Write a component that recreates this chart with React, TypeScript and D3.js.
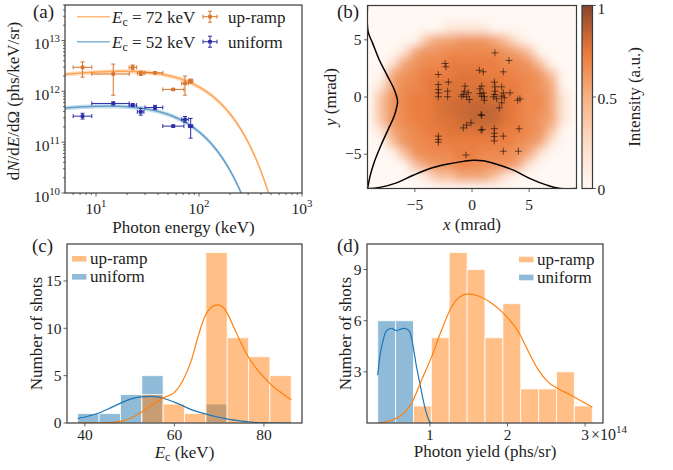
import React from "react";
import * as d3 from "d3";

const FONT = "'Liberation Serif', 'Times New Roman', Times, serif";
const INK = "#1e1e1e";
const SPINE = "#3a3a3a";
const ORANGE = "#ff7f0e";
const BLUE = "#1f77b4";
const UP_MARK = "#d8742c";
const UNI_MARK = "#2b2ba8";

// ---------- (a) spectra ----------
const binEnergy = [7.4, 14.7, 22.7, 27.2, 37.4, 56.2, 73.1, 83.0];
const binEnergyLo = [6.0, 9.1, 21.0, 25.2, 29.9, 44.5, 67.9, 79.0];
const binEnergyHi = [9.1, 21.0, 24.8, 29.2, 44.5, 71.4, 78.7, 87.0];
const upRampYield = [2.97e12, 2.19e12, 2.97e12, 2.26e12, 2.32e12, 1.09e12, 1.43e12, 1.59e12];
const upRampYieldLo = [1.9e12, 8.4e11, 2.65e12, 2.05e12, 2.2e12, 1.04e12, 8.4e11, 1.45e12];
const upRampYieldHi = [3.8e12, 3.44e12, 3.3e12, 2.5e12, 2.45e12, 1.14e12, 2.0e12, 1.75e12];
const uniformYield = [3.25e11, 5.78e11, 5.36e11, 3.95e11, 4.82e11, 2.07e11, 2.8e11, 2.07e11];
const uniformYieldLo = [2.85e11, 5.4e11, 5.0e11, 3.4e11, 4.4e11, 1.98e11, 2.45e11, 1.2e11];
const uniformYieldHi = [3.7e11, 6.2e11, 5.75e11, 4.6e11, 5.3e11, 2.17e11, 3.2e11, 2.93e11];

// synchrotron-like fit parameters
const upRampEc = 72;
const uniformEc = 52;
const upRampAmp = 4.5e12;
const uniformAmp = 9.3e11;
const fitIndex = 0.25;
const fitSpread = 0.1;

const specXTicks = [1, 2, 3];
const specYTicks = [10, 11, 12, 13];

// ---------- (b) beam profile and pointing ----------
const beamGridX = [-9, -8, -7, -6, -5, -4, -3, -2, -1, 0, 1, 2, 3, 4, 5, 6, 7, 8, 9];
const beamGridY = [8, 7, 6, 5, 4, 3, 2, 1, 0, -1, -2, -3, -4, -5, -6, -7, -8];
// intensity in percent, one row per y value, one entry per x value
const beamRows = [
  [0, 0, 0, 0, 0, 0, 0, 0, 0, 0, 0, 0, 0, 0, 0, 0, 0, 0, 0],
  [0, 0, 0, 0, 0, 0, 0, 0, 0, 0, 0, 0, 0, 0, 0, 0, 0, 0, 0],
  [0, 0, 0, 0, 0, 0, 0, 15, 15, 15, 15, 0, 0, 0, 0, 0, 0, 0, 0],
  [0, 0, 0, 0, 0, 40, 55, 55, 63, 63, 63, 55, 40, 15, 0, 0, 0, 0, 0],
  [0, 0, 0, 15, 55, 63, 63, 68, 68, 68, 68, 68, 63, 55, 40, 0, 0, 0, 0],
  [0, 0, 15, 55, 63, 68, 68, 73, 73, 73, 73, 73, 68, 68, 63, 40, 0, 0, 0],
  [0, 0, 55, 63, 68, 73, 73, 73, 78, 78, 73, 73, 73, 68, 68, 63, 40, 0, 0],
  [0, 15, 55, 68, 68, 73, 78, 78, 78, 78, 78, 78, 73, 73, 68, 63, 55, 0, 0],
  [0, 40, 63, 68, 73, 73, 78, 78, 82, 82, 82, 78, 78, 73, 68, 68, 55, 15, 0],
  [0, 40, 63, 68, 73, 73, 78, 82, 82, 85, 85, 85, 78, 73, 68, 68, 55, 15, 0],
  [0, 40, 63, 68, 73, 73, 78, 78, 82, 85, 85, 85, 78, 73, 68, 63, 55, 15, 0],
  [0, 15, 55, 63, 68, 73, 73, 78, 78, 78, 78, 78, 73, 73, 68, 63, 40, 0, 0],
  [0, 0, 40, 63, 68, 68, 73, 73, 73, 73, 73, 73, 73, 68, 63, 55, 15, 0, 0],
  [0, 0, 0, 40, 63, 68, 68, 68, 73, 73, 68, 68, 68, 63, 55, 15, 0, 0, 0],
  [0, 0, 0, 0, 40, 55, 63, 63, 68, 68, 63, 63, 63, 55, 15, 0, 0, 0, 0],
  [0, 0, 0, 0, 0, 15, 40, 40, 55, 55, 55, 40, 15, 0, 0, 0, 0, 0, 0],
  [0, 0, 0, 0, 0, 0, 0, 0, 0, 0, 0, 0, 0, 0, 0, 0, 0, 0, 0],
];
const pointingX = [
  2.01, 3.24, -2.36, -2.28, 0.64, 0.99, 2.74, -2.95, -2.07,
  -2.95, -2.95, -2.95, -2.95, -2.13, -2.13,
  -0.61, -0.67, -0.76, -0.9, -0.47, -0.32, -0.23,
  0.7, 0.85, 0.99, 0.85, 1.08, 0.7, 1.08,
  1.96, 2.01, 2.01, 2.01, 1.87, 2.16,
  2.6, 2.74, 2.6, 2.83, 3.33, 2.39, 2.6, 4.0, 4.2,
  0.79, 0.85, -0.09, -0.47, -0.76, 0.79, 0.9,
  1.95, 1.95, 1.95, 1.95, 2.74, 4.12,
  -2.95, -2.95, -2.95, 2.74, 4.06, -0.53,
];
const pointingY = [
  3.86, 3.19, 2.93, 2.64, 2.34, 2.2, 2.2, 1.97, 1.3,
  1.09, 0.66, 0.36, 0.02, 0.51, 0.02,
  0.95, 0.51, 0.22, 0.07, 0.02, 0.37, -0.22,
  0.71, 0.95, 0.36, 0.07, 0.02, 0.3, -0.28,
  1.3, 0.89, 0.51, 0.22, 0.02, -0.16,
  0.89, 0.36, 0.07, -0.07, 0.36, -0.95, -0.51, -0.28, -0.16,
  -1.53, -1.62, -2.26, -2.46, -2.7, -2.9, -2.84,
  -2.77, -3.17, -3.46, -3.84, -3.42, -2.78,
  -3.42, -3.72, -3.95, -4.74, -4.74, -5.08,
];
// marginal profiles (normalised)
const profileYPos = [8, 5.72, 4.71, 3.26, 1.81, 0.65, -0.36, -0.8, -1.67, -2.83, -4.28, -5.72, -6.88, -7.75, -8];
const profileYVal = [0, 0.02, 0.17, 0.39, 0.67, 0.89, 1.0, 0.98, 0.89, 0.69, 0.44, 0.22, 0.09, 0.02, 0];
const profileXPos = [-9.15, -8.07, -6.61, -5.15, -3.68, -2.22, -0.76, 0.12, 0.99, 2.16, 3.63, 5.09, 6.55, 7.72, 9.15];
const profileXVal = [0, 0.04, 0.2, 0.47, 0.71, 0.86, 0.96, 1.0, 0.98, 0.86, 0.65, 0.35, 0.12, 0.0, 0];
const profileYAmp = 2.63;
const profileXAmp = 2.47;
const beamXTicks = [-5, 0, 5];
const beamYTicks = [-5, 0, 5];
const colorbarTicks = [0, 0.5, 1];
const cmapStops = [0, 0.25, 0.5, 0.75, 1];
const cmapColors = ["#fff8f3", "#fcdcc7", "#f6b184", "#e9793a", "#86462b"];

// ---------- (c) critical energy histogram ----------
const ecEdges = [38.4, 43.17, 47.94, 52.71, 57.48, 62.25, 67.02, 71.79, 76.56, 81.33, 86.1];
const ecUpRamp = [0, 0, 0, 3, 2, 1, 18, 9, 7, 5];
const ecUniform = [1, 1, 3, 5, 0, 0, 2, 0, 0, 0];
const ecKdeUpX = [38.4, 42, 45.3, 49.0, 52.7, 55.3, 57.85, 60.07, 61.9, 63.76, 65.23, 66.7, 68.18, 69.65, 70.76, 71.9, 73.34, 74.8, 76.3, 77.8, 80.0, 82.2, 84.4, 86.1];
const ecKdeUpY = [0.0, 0.01, 0.04, 0.28, 1.16, 2.04, 2.73, 3.26, 4.49, 6.59, 9.04, 11.15, 12.2, 12.48, 12.27, 11.5, 10.03, 8.52, 7.12, 6.07, 4.84, 3.79, 3.02, 2.46];
const ecKdeUniX = [38.4, 40.9, 43.1, 46.1, 49.0, 52.0, 54.9, 57.85, 60.8, 63.8, 66.7, 69.65, 72.6, 75.5, 78.5, 80.0, 83, 86.1];
const ecKdeUniY = [0.46, 0.74, 1.05, 1.68, 2.31, 2.73, 2.81, 2.56, 2.04, 1.41, 0.99, 0.63, 0.36, 0.18, 0.04, 0.01, 0, 0];
const ecXTicks = [40, 60, 80];
const ecYTicks = [0, 5, 10, 15];

// ---------- (d) photon yield histogram (units of 1e14 phs/sr) ----------
const yieldEdges = [0.328, 0.558, 0.789, 1.019, 1.249, 1.48, 1.71, 1.94, 2.17, 2.401, 2.631, 2.861, 3.092];
const yieldUpRamp = [0, 0, 1, 5, 10, 9, 5, 7, 2, 2, 3, 1];
const yieldUniform = [6, 6, 0, 0, 0, 0, 0, 0, 0, 0, 0, 0];
const yieldKdeUniX = [0.328, 0.355, 0.398, 0.441, 0.505, 0.57, 0.613, 0.677, 0.742, 0.785, 0.828, 0.871, 0.914, 0.957, 1.0, 1.02];
const yieldKdeUniY = [2.81, 3.88, 4.86, 5.41, 5.55, 5.41, 5.49, 5.55, 5.35, 4.47, 3.29, 2.32, 1.34, 0.55, 0.06, 0];
const yieldKdeUpX = [0.328, 0.505, 0.634, 0.763, 0.892, 1.022, 1.151, 1.28, 1.387, 1.495, 1.624, 1.796, 1.968, 2.14, 2.27, 2.4, 2.52, 2.65, 2.82, 2.95, 3.092];
const yieldKdeUpY = [0.0, 0.16, 0.45, 1.14, 2.51, 3.88, 5.45, 6.82, 7.41, 7.57, 7.45, 7.02, 6.34, 5.35, 4.18, 3.1, 2.41, 2.02, 1.63, 1.29, 0.94];
const yieldXTicks = [1, 2, 3];
const yieldYTicks = [3, 6, 9];

const TICK = 15.5;
const LABEL = 17;

type Box = { l: number; r: number; t: number; b: number };

function Frame({ P }: { P: Box }) {
  return <rect x={P.l} y={P.t} width={P.r - P.l} height={P.b - P.t} fill="none" stroke={SPINE} strokeWidth={1.2} />;
}

function Pow({ x, y, exp, anchor = "middle" }: { x: number; y: number; exp: number; anchor?: string }) {
  return (
    <text x={x} y={y} textAnchor={anchor as any} fontSize={TICK} fill={INK}>
      10<tspan dy={-TICK * 0.45} fontSize={TICK * 0.7}>{exp}</tspan>
    </text>
  );
}

function ErrPoints(props: any) {
  const { x, y, E, Elo, Ehi, N, Nlo, Nhi, color } = props;
  return (
    <g stroke={color} strokeWidth={1} fill={color}>
      {E.map((e: number, i: number) => {
        const cx = x(e), cy = y(N[i]);
        const x0 = x(Elo[i]), x1 = x(Ehi[i]), y0 = y(Nlo[i]), y1 = y(Nhi[i]);
        return (
          <g key={i}>
            <line x1={x0} x2={x1} y1={cy} y2={cy} />
            <line x1={x0} x2={x0} y1={cy - 2} y2={cy + 2} />
            <line x1={x1} x2={x1} y1={cy - 2} y2={cy + 2} />
            <line x1={cx} x2={cx} y1={y0} y2={y1} />
            <line x1={cx - 2} x2={cx + 2} y1={y0} y2={y0} />
            <line x1={cx - 2} x2={cx + 2} y1={y1} y2={y1} />
            <rect x={cx - 1.8} y={cy - 1.8} width={3.6} height={3.6} stroke="none" />
          </g>
        );
      })}
    </g>
  );
}

function PanelA() {
  const P: Box = { l: 65, r: 302, t: 5, b: 193 };
  const x = d3.scaleLog().domain([5, 1000]).range([P.l, P.r]);
  const y = d3.scaleLog().domain([1e10, 5e13]).range([P.b, P.t]);
  const fitE = d3.range(0, 401).map((i) => 5 * Math.pow(200, i / 400));
  const model = (amp: number, ec: number) => (e: number) => amp * Math.pow(e / ec, fitIndex) * Math.exp(-e / ec);
  const fits = [
    { f: model(upRampAmp, upRampEc), color: ORANGE },
    { f: model(uniformAmp, uniformEc), color: BLUE },
  ];
  const safe = (v: number) => y(Math.max(v, 1e6));
  const xMinor: number[] = [];
  [1, 10, 100].forEach((d) => [2, 3, 4, 5, 6, 7, 8, 9].forEach((k) => { const v = k * d; if (v > 5 && v < 1000 && v !== 10 && v !== 100) xMinor.push(v); }));
  const yMinor: number[] = [];
  [1e10, 1e11, 1e12, 1e13].forEach((d) => [2, 3, 4, 5, 6, 7, 8, 9].forEach((k) => { const v = k * d; if (v <= 5e13) yMinor.push(v); }));
  return (
    <g>
      <defs>
        <clipPath id="clipA"><rect x={P.l} y={P.t} width={P.r - P.l} height={P.b - P.t} /></clipPath>
      </defs>
      <g clipPath="url(#clipA)">
        {fits.map((ft, i) => (
          <g key={i}>
            <path d={d3.area<number>().x((e) => x(e)).y0((e) => safe(ft.f(e) * (1 - fitSpread))).y1((e) => safe(ft.f(e) * (1 + fitSpread)))(fitE) || ""} fill={ft.color} fillOpacity={0.25} />
            <path d={d3.line<number>().x((e) => x(e)).y((e) => safe(ft.f(e)))(fitE) || ""} fill="none" stroke={ft.color} strokeOpacity={0.6} strokeWidth={1.5} />
          </g>
        ))}
        <ErrPoints x={x} y={y} E={binEnergy} Elo={binEnergyLo} Ehi={binEnergyHi} N={upRampYield} Nlo={upRampYieldLo} Nhi={upRampYieldHi} color={UP_MARK} />
        <ErrPoints x={x} y={y} E={binEnergy} Elo={binEnergyLo} Ehi={binEnergyHi} N={uniformYield} Nlo={uniformYieldLo} Nhi={uniformYieldHi} color={UNI_MARK} />
      </g>
      <g stroke={SPINE} strokeWidth={0.8}>
        {xMinor.map((v) => <line key={"xm" + v} x1={x(v)} x2={x(v)} y1={P.b} y2={P.b + 2} />)}
        {specXTicks.map((p) => <line key={"xM" + p} x1={x(Math.pow(10, p))} x2={x(Math.pow(10, p))} y1={P.b} y2={P.b + 3.5} />)}
        {yMinor.map((v) => <line key={"ym" + v} x1={P.l - 2} x2={P.l} y1={y(v)} y2={y(v)} />)}
        {specYTicks.map((p) => <line key={"yM" + p} x1={P.l - 3.5} x2={P.l} y1={y(Math.pow(10, p))} y2={y(Math.pow(10, p))} />)}
      </g>
      {specXTicks.map((p) => <Pow key={"xl" + p} x={x(Math.pow(10, p))} y={P.b + 21} exp={p} />)}
      {specYTicks.map((p) => <Pow key={"yl" + p} x={P.l - 5} y={y(Math.pow(10, p)) + 8.5} exp={p} anchor="end" />)}
      <Frame P={P} />
      <text x={(P.l + P.r) / 2} y={232.5} textAnchor="middle" fontSize={LABEL} fill={INK}>Photon energy (keV)</text>
      <text transform={`translate(19,101) rotate(-90)`} textAnchor="middle" fontSize={LABEL} fill={INK}>
        d<tspan fontStyle="italic">N</tspan>/d<tspan fontStyle="italic">E</tspan>/dΩ (phs/keV/sr)
      </text>
      {/* legend */}
      <g fontSize={LABEL} fill={INK}>
        <line x1={77} x2={110} y1={16.7} y2={16.7} stroke={ORANGE} strokeOpacity={0.55} strokeWidth={1.5} />
        <text x={112} y={22.5}><tspan fontStyle="italic">E</tspan><tspan fontSize={12} dy={3}>c</tspan><tspan dy={-3}>{` = ${upRampEc} keV`}</tspan></text>
        <line x1={77} x2={110} y1={41.7} y2={41.7} stroke={BLUE} strokeOpacity={0.55} strokeWidth={1.5} />
        <text x={112} y={47.5}><tspan fontStyle="italic">E</tspan><tspan fontSize={12} dy={3}>c</tspan><tspan dy={-3}>{` = ${uniformEc} keV`}</tspan></text>
        {[{ c: UP_MARK, yy: 16.7, t: "up-ramp" }, { c: UNI_MARK, yy: 41.7, t: "uniform" }].map((h) => (
          <g key={h.t}>
            <g stroke={h.c} strokeWidth={1}>
              <line x1={203} x2={217} y1={h.yy} y2={h.yy} />
              <line x1={203} x2={203} y1={h.yy - 2} y2={h.yy + 2} />
              <line x1={217} x2={217} y1={h.yy - 2} y2={h.yy + 2} />
              <line x1={210} x2={210} y1={h.yy - 5.5} y2={h.yy + 5.5} />
              <line x1={208} x2={212} y1={h.yy - 5.5} y2={h.yy - 5.5} />
              <line x1={208} x2={212} y1={h.yy + 5.5} y2={h.yy + 5.5} />
            </g>
            <rect x={208.2} y={h.yy - 1.8} width={3.6} height={3.6} fill={h.c} />
            <text x={228} y={h.yy + 5.8}>{h.t}</text>
          </g>
        ))}
      </g>
      <text x={33} y={17.5} fontSize={19} fill={INK}>(a)</text>
    </g>
  );
}

function PanelB() {
  const P: Box = { l: 367.5, r: 576.5, t: 5.5, b: 188.5 };
  const x = d3.scaleLinear().domain([-9.15, 9.15]).range([P.l, P.r]);
  const y = d3.scaleLinear().domain([-8, 8]).range([P.b, P.t]);
  const cmap = d3.scaleLinear<string>().domain(cmapStops).range(cmapColors).interpolate(d3.interpolateRgb).clamp(true);
  const cw = x(1) - x(0);
  const ch = y(0) - y(1);
  const leftProfile = d3.line<number>()
    .x((_, i) => x(-9.15 + profileYVal[i] * profileYAmp))
    .y((v) => y(v))
    .curve(d3.curveCatmullRom.alpha(0.5))(profileYPos) || "";
  const bottomProfile = d3.line<number>()
    .x((v) => x(v))
    .y((_, i) => y(-8 + profileXVal[i] * profileXAmp))
    .curve(d3.curveCatmullRom.alpha(0.5))(profileXPos) || "";
  const CB: Box = { l: 582, r: 592.5, t: 5.5, b: 188.5 };
  const cy = d3.scaleLinear().domain([0, 1]).range([CB.b, CB.t]);
  const gradStops = d3.range(0, 21).map((i) => i / 20);
  return (
    <g>
      <defs>
        <clipPath id="clipB"><rect x={P.l} y={P.t} width={P.r - P.l} height={P.b - P.t} /></clipPath>
        <filter id="softB" x="-10%" y="-10%" width="120%" height="120%">
          <feGaussianBlur stdDeviation={5} />
        </filter>
        <linearGradient id="cbar" x1="0" y1="1" x2="0" y2="0">
          {gradStops.map((s) => <stop key={s} offset={s} stopColor={cmap(s)} />)}
        </linearGradient>
      </defs>
      <g clipPath="url(#clipB)">
        <rect x={P.l} y={P.t} width={P.r - P.l} height={P.b - P.t} fill={cmap(0)} />
        <g filter="url(#softB)">
          {beamRows.map((row, i) =>
            row.map((v, j) => (
              <rect key={i + "-" + j} x={x(beamGridX[j] - 0.5)} y={y(beamGridY[i] + 0.5)} width={cw + 0.3} height={ch + 0.3} fill={cmap(v / 100)} />
            ))
          )}
        </g>
        <g stroke="#000" strokeOpacity={0.55} strokeWidth={1}>
          {pointingX.map((px, i) => {
            const X = x(px), Y = y(pointingY[i]);
            return <path key={i} d={`M${X - 3.5},${Y}h7M${X},${Y - 3.5}v7`} />;
          })}
        </g>
        <path d={leftProfile} fill="none" stroke="#000" strokeWidth={1.5} />
        <path d={bottomProfile} fill="none" stroke="#000" strokeWidth={1.5} />
      </g>
      <g stroke={SPINE} strokeWidth={0.8}>
        {beamXTicks.map((t) => <line key={"x" + t} x1={x(t)} x2={x(t)} y1={P.b} y2={P.b + 3.5} />)}
        {beamYTicks.map((t) => <line key={"y" + t} x1={P.l - 3.5} x2={P.l} y1={y(t)} y2={y(t)} />)}
      </g>
      {beamXTicks.map((t) => <text key={"xl" + t} x={x(t)} y={210} textAnchor="middle" fontSize={TICK} fill={INK}>{t < 0 ? "\u2212" + Math.abs(t) : t}</text>)}
      {beamYTicks.map((t) => <text key={"yl" + t} x={P.l - 6} y={y(t) + 5.3} textAnchor="end" fontSize={TICK} fill={INK}>{t < 0 ? "\u2212" + Math.abs(t) : t}</text>)}
      <Frame P={P} />
      <text x={(P.l + P.r) / 2} y={230} textAnchor="middle" fontSize={LABEL} fill={INK}><tspan fontStyle="italic">x</tspan> (mrad)</text>
      <text transform={`translate(336,${(P.t + P.b) / 2}) rotate(-90)`} textAnchor="middle" fontSize={LABEL} fill={INK}><tspan fontStyle="italic">y</tspan> (mrad)</text>
      {/* colorbar */}
      <rect x={CB.l} y={CB.t} width={CB.r - CB.l} height={CB.b - CB.t} fill="url(#cbar)" stroke={SPINE} strokeWidth={1.2} />
      <g stroke={SPINE} strokeWidth={0.8}>
        {colorbarTicks.map((t) => <line key={t} x1={CB.r} x2={CB.r + 3.5} y1={cy(t)} y2={cy(t)} />)}
      </g>
      {colorbarTicks.map((t) => <text key={"c" + t} x={CB.r + 5} y={Math.max(cy(t) + 6.5, 14)} fontSize={TICK} fill={INK}>{t}</text>)}
      <text transform={`translate(640,${(CB.t + CB.b) / 2}) rotate(-90)`} textAnchor="middle" fontSize={LABEL} fill={INK}>Intensity (a.u.)</text>
      <text x={337} y={17.5} fontSize={19} fill={INK}>(b)</text>
    </g>
  );
}

function Hist(props: any) {
  const { P, xDom, yMax, edges, up, uni, kUpX, kUpY, kUniX, kUniY, xTicks, yTicks, id } = props;
  const x = d3.scaleLinear().domain(xDom).range([P.l, P.r]);
  const y = d3.scaleLinear().domain([0, yMax]).range([P.b, P.t]);
  const bars = (counts: number[], color: string) =>
    counts.map((c, i) =>
      c > 0 ? (
        <rect key={i} x={x(edges[i])} y={y(c)} width={x(edges[i + 1]) - x(edges[i])} height={y(0) - y(c)} fill={color} fillOpacity={0.5} stroke="#fff" strokeOpacity={0.8} strokeWidth={1} />
      ) : null
    );
  const kde = (xs: number[], ys: number[]) =>
    d3.line<number>().x((v) => x(v)).y((_, i) => y(ys[i])).curve(d3.curveMonotoneX)(xs) || "";
  return (
    <g>
      <defs>
        <clipPath id={id}><rect x={P.l} y={P.t} width={P.r - P.l} height={P.b - P.t} /></clipPath>
      </defs>
      <g clipPath={`url(#${id})`}>
        {bars(uni, BLUE)}
        {bars(up, ORANGE)}
        <path d={kde(kUniX, kUniY)} fill="none" stroke={BLUE} strokeWidth={1.2} />
        <path d={kde(kUpX, kUpY)} fill="none" stroke={ORANGE} strokeWidth={1.2} />
      </g>
      <g stroke={SPINE} strokeWidth={0.8}>
        {xTicks.map((t: number) => <line key={"x" + t} x1={x(t)} x2={x(t)} y1={P.b} y2={P.b + 3.5} />)}
        {yTicks.map((t: number) => <line key={"y" + t} x1={P.l - 3.5} x2={P.l} y1={y(t)} y2={y(t)} />)}
      </g>
      {xTicks.map((t: number) => <text key={"xl" + t} x={x(t)} y={P.b + 17} textAnchor="middle" fontSize={TICK} fill={INK}>{t}</text>)}
      {yTicks.map((t: number) => <text key={"yl" + t} x={P.l - 5.5} y={y(t) + 5.3} textAnchor="end" fontSize={TICK} fill={INK}>{t}</text>)}
      <Frame P={P} />
    </g>
  );
}

function LegendPatches({ x, y0 }: { x: number; y0: number }) {
  return (
    <g fontSize={LABEL} fill={INK}>
      <rect x={x} y={y0 - 2.8} width={14.5} height={5.6} fill={ORANGE} fillOpacity={0.5} />
      <text x={x + 18} y={y0 + 5.5}>up-ramp</text>
      <rect x={x} y={y0 + 18 - 2.8} width={14.5} height={5.6} fill={BLUE} fillOpacity={0.5} />
      <text x={x + 18} y={y0 + 23.5}>uniform</text>
    </g>
  );
}

function PanelC() {
  const P: Box = { l: 67, r: 302, t: 244, b: 423 };
  return (
    <g>
      <Hist id="clipC" P={P} xDom={[36.0, 88.5]} yMax={18.9} edges={ecEdges} up={ecUpRamp} uni={ecUniform}
        kUpX={ecKdeUpX} kUpY={ecKdeUpY} kUniX={ecKdeUniX} kUniY={ecKdeUniY} xTicks={ecXTicks} yTicks={ecYTicks} />
      <LegendPatches x={72} y0={258.8} />
      <text x={(P.l + P.r) / 2} y={457.5} textAnchor="middle" fontSize={LABEL} fill={INK}>
        <tspan fontStyle="italic">E</tspan><tspan fontSize={12} dy={3}>c</tspan><tspan dy={-3}> (keV)</tspan>
      </text>
      <text transform={`translate(42,${(P.t + P.b) / 2}) rotate(-90)`} textAnchor="middle" fontSize={LABEL} fill={INK}>Number of shots</text>
      <text x={32} y={252} fontSize={19} fill={INK}>(c)</text>
    </g>
  );
}

function PanelD() {
  const P: Box = { l: 367, r: 603, t: 244, b: 423 };
  return (
    <g>
      <Hist id="clipD" P={P} xDom={[0.19, 3.23]} yMax={10.5} edges={yieldEdges} up={yieldUpRamp} uni={yieldUniform}
        kUpX={yieldKdeUpX} kUpY={yieldKdeUpY} kUniX={yieldKdeUniX} kUniY={yieldKdeUniY} xTicks={yieldXTicks} yTicks={yieldYTicks} />
      <LegendPatches x={519} y0={259.5} />
      <text x={591} y={440} fontSize={TICK + 0.5} fill={INK}>×10<tspan dy={-7} fontSize={11}>14</tspan></text>
      <text x={(P.l + P.r) / 2} y={457} textAnchor="middle" fontSize={LABEL} fill={INK}>Photon yield (phs/sr)</text>
      <text transform={`translate(351,${(P.t + P.b) / 2}) rotate(-90)`} textAnchor="middle" fontSize={LABEL} fill={INK}>Number of shots</text>
      <text x={337} y={252} fontSize={19} fill={INK}>(d)</text>
    </g>
  );
}

export default function App() {
  return (
    <svg width={673} height={470} viewBox="0 0 673 470" fontFamily={FONT}
      style={{ position: "absolute", left: 0, top: 0, background: "#fff", display: "block" }}>
      <rect width={673} height={470} fill="#fff" />
      <PanelA />
      <PanelB />
      <PanelC />
      <PanelD />
    </svg>
  );
}
